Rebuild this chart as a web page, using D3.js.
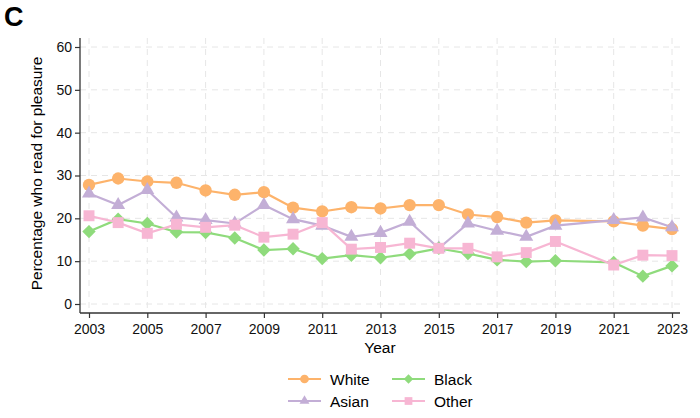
<!DOCTYPE html>
<html>
<head>
<meta charset="utf-8">
<script src="https://cdn.jsdelivr.net/npm/d3@7"></script>
<style>
  body { margin: 0; background: #fff; }
  svg { font-family: "Liberation Sans", Arial, sans-serif; }
</style>
</head>
<body>
<div id="chart"></div>
<script>
// Years surveyed (no 2020)
const years = [2003, 2004, 2005, 2006, 2007, 2008, 2009, 2010, 2011, 2012, 2013,
               2014, 2015, 2016, 2017, 2018, 2019, 2021, 2022, 2023];
const white = [27.8, 29.3, 28.6, 28.3, 26.5, 25.5, 26.1, 22.5, 21.6, 22.6, 22.3,
               23.1, 23.1, 20.9, 20.3, 19.0, 19.5, 19.3, 18.3, 17.5];
const asian = [25.8, 23.1, 26.6, 20.2, 19.6, 18.8, 23.1, 19.8, 18.3, 15.7, 16.6,
               19.2, 13.0, 18.8, 17.1, 15.7, 18.3, 19.6, 20.2, 17.9];
const black = [16.9, 19.8, 18.8, 16.8, 16.7, 15.4, 12.6, 12.9, 10.6, 11.4, 10.8,
               11.7, 13.0, 11.8, 10.3, 9.9, 10.1, 9.7, 6.5, 8.9];
const other = [20.6, 19.0, 16.5, 18.6, 17.9, 18.4, 15.6, 16.3, 19.0, 12.8, 13.2,
               14.2, 13.0, 13.0, 11.0, 12.0, 14.6, 9.1, 11.4, 11.3];
const xTicks = [2003, 2005, 2007, 2009, 2011, 2013, 2015, 2017, 2019, 2021, 2023];
const yTicks = [0, 10, 20, 30, 40, 50, 60];

// diamond = square turned 45 degrees
const series = [
  { name: "White", values: white, color: "#fdb36b", symbol: d3.symbolCircle, size: 120, rot: 0 },
  { name: "Asian", values: asian, color: "#c3aed6", symbol: d3.symbolTriangle, size: 85, rot: 0 },
  { name: "Black", values: black, color: "#8fdb7c", symbol: d3.symbolSquare, size: 90, rot: 45 },
  { name: "Other", values: other, color: "#f7b6d3", symbol: d3.symbolSquare, size: 120, rot: 0 }
];

const W = 700, H = 418;
const svg = d3.select("#chart").append("svg")
  .attr("width", W).attr("height", H);

const x = d3.scaleLinear().domain([2003, 2023]).range([89, 672]);
const y = d3.scaleLinear().domain([0, 60]).range([304, 47]);
const plot = { left: 80, bottom: 313, top: 38, right: 680 };

// panel letter
svg.append("text").attr("x", 4).attr("y", 26)
  .attr("font-size", 27).attr("font-weight", "bold").text("C");

// grid
const grid = svg.append("g").attr("stroke", "#e6e6e6").attr("stroke-width", 1)
  .attr("stroke-dasharray", "6,5");
yTicks.forEach(t => grid.append("line")
  .attr("x1", plot.left).attr("x2", plot.right).attr("y1", y(t)).attr("y2", y(t)));
xTicks.forEach(t => grid.append("line")
  .attr("x1", x(t)).attr("x2", x(t)).attr("y1", plot.top).attr("y2", plot.bottom));

// axes
const xAxis = svg.append("g").attr("transform", `translate(0,${plot.bottom})`)
  .call(d3.axisBottom(x).tickValues(xTicks).tickFormat(d3.format("d"))
    .tickSize(5).tickSizeOuter(0));
xAxis.select(".domain").attr("d", `M${plot.left},0H${plot.right}`);
const yAxis = svg.append("g").attr("transform", `translate(${plot.left},0)`)
  .call(d3.axisLeft(y).tickValues(yTicks).tickSize(5).tickSizeOuter(0));
yAxis.select(".domain").attr("d", `M0,${plot.top}V${plot.bottom}`);
[xAxis, yAxis].forEach(a => {
  a.selectAll(".domain").attr("stroke", "#333").attr("stroke-width", 1.3);
  a.selectAll(".tick line").attr("stroke", "#333").attr("stroke-width", 1.2);
  a.selectAll("text").attr("font-size", 14).attr("fill", "#111")
    .attr("font-family", "Liberation Sans, Arial, sans-serif");
});
xAxis.selectAll("text").attr("dy", "0.95em");

// axis titles
svg.append("text").attr("x", (plot.left + plot.right) / 2).attr("y", 353)
  .attr("text-anchor", "middle").attr("font-size", 15.5).text("Year");
svg.append("text")
  .attr("transform", `translate(42,${(plot.top + plot.bottom) / 2 - 2}) rotate(-90)`)
  .attr("text-anchor", "middle").attr("font-size", 15.5)
  .text("Percentage who read for pleasure");

// lines and markers
const line = d3.line().x((d, i) => x(years[i])).y(d => y(d));
series.forEach(s => {
  svg.append("path").datum(s.values)
    .attr("fill", "none").attr("stroke", s.color).attr("stroke-width", 2.2)
    .attr("d", line);
  svg.append("g").selectAll("path").data(s.values).join("path")
    .attr("transform", (d, i) => `translate(${x(years[i])},${y(d)}) rotate(${s.rot})`)
    .attr("d", d3.symbol().type(s.symbol).size(s.size))
    .attr("fill", s.color);
});

// legend
const legendPos = [
  { s: 0, lx: 288, ly: 379 }, { s: 2, lx: 392, ly: 379 },
  { s: 1, lx: 288, ly: 401 }, { s: 3, lx: 392, ly: 401 }
];
legendPos.forEach(p => {
  const s = series[p.s];
  const g = svg.append("g");
  g.append("line").attr("x1", p.lx).attr("x2", p.lx + 33)
    .attr("y1", p.ly).attr("y2", p.ly).attr("stroke", s.color).attr("stroke-width", 2);
  g.append("path").attr("transform", `translate(${p.lx + 16.5},${p.ly}) rotate(${s.rot})`)
    .attr("d", d3.symbol().type(s.symbol).size(s.size / 2)).attr("fill", s.color);
  g.append("text").attr("x", p.lx + 42).attr("y", p.ly).attr("dy", "0.36em")
    .attr("font-size", 15.5).text(s.name);
});
</script>
</body>
</html>
